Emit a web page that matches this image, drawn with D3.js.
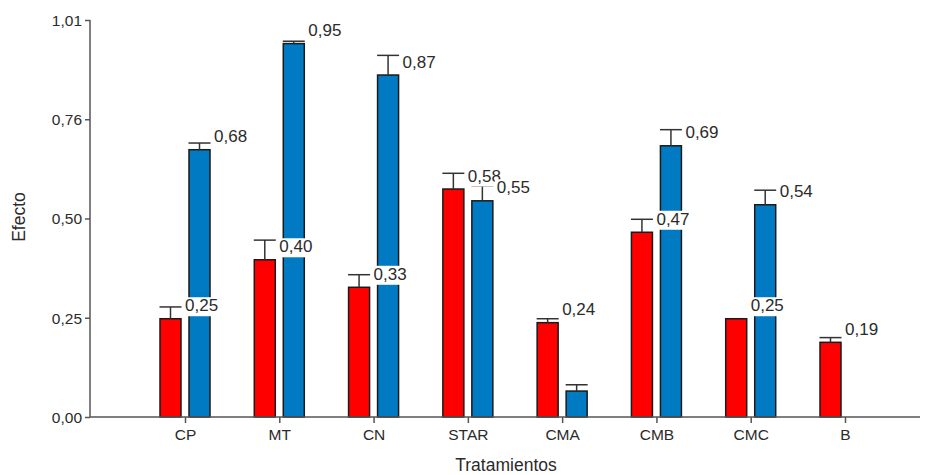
<!DOCTYPE html>
<html>
<head>
<meta charset="utf-8">
<script src="https://cdn.jsdelivr.net/npm/d3@7"></script>
<style>
  html, body { margin: 0; padding: 0; background: #fff; }
  svg { display: block; font-family: "Liberation Sans", Arial, sans-serif; }
</style>
</head>
<body>
<svg id="chart" width="925" height="475"></svg>
<script>
// Treatments and effect values (two series per treatment)
const categories = ["CP", "MT", "CN", "STAR", "CMA", "CMB", "CMC", "B"];
const redValues  = [0.25, 0.40, 0.33, 0.58, 0.24, 0.47, 0.25, 0.19];
const redErrors  = [0.030, 0.050, 0.032, 0.040, 0.010, 0.033, 0, 0.012];
const blueValues = [0.68, 0.95, 0.87, 0.55, 0.066, 0.69, 0.54, null];
const blueErrors = [0.017, 0.006, 0.050, 0.038, 0.016, 0.041, 0.037, 0];
const blueLabelled = [true, true, true, true, false, true, true, false];
const yTickValues = [0, 0.2525, 0.505, 0.7575, 1.01];
const yTickLabels = ["0,00", "0,25", "0,50", "0,76", "1,01"];

const svg = d3.select("#chart");
const axisX0 = 90, axisX1 = 920;

const x = d3.scalePoint().domain(categories).range([185, 845]);
const y = d3.scaleLinear().domain([0, 1.01]).range([417, 20]);

const barW = 21, barGap = 4;
const fmt = v => d3.format(".2f")(v).replace(".", ",");
const textColor = "#2b2b2b";

const series = [
  { key: "red", color: "#ff0000", values: redValues, errors: redErrors,
    offset: -barGap - barW, labelled: categories.map(() => true) },
  { key: "blue", color: "#007ac2", values: blueValues, errors: blueErrors,
    offset: barGap, labelled: blueLabelled }
];

const rows = s => categories.map((c, i) => ({
  cat: c, v: s.values[i], e: s.errors[i], lab: s.labelled[i]
})).filter(d => d.v != null);

// Bars
series.forEach(s => {
  svg.append("g").selectAll("rect").data(rows(s)).join("rect")
    .attr("x", d => x(d.cat) + s.offset)
    .attr("y", d => y(d.v))
    .attr("width", barW)
    .attr("height", d => y(0) - y(d.v))
    .attr("fill", s.color)
    .attr("stroke", "#1a1a1a")
    .attr("stroke-width", 1.5);
});

// Error bars (upper whisker with cap)
series.forEach(s => {
  const g = svg.append("g").attr("stroke", "#333").attr("stroke-width", 1.5);
  rows(s).filter(d => d.e > 0).forEach(d => {
    const cx = x(d.cat) + s.offset + barW / 2;
    g.append("line").attr("x1", cx).attr("x2", cx)
      .attr("y1", y(d.v)).attr("y2", y(d.v + d.e));
    g.append("line").attr("x1", cx - barW / 2 - 0.5).attr("x2", cx + barW / 2 + 0.5)
      .attr("y1", y(d.v + d.e)).attr("y2", y(d.v + d.e));
  });
});

// Axes
const gx = svg.append("g").attr("transform", `translate(0,${y(0)})`)
  .call(d3.axisBottom(x).tickSize(6).tickPadding(6));
gx.select(".domain").attr("d", `M${axisX0},0H${axisX1}`);
const gy = svg.append("g").attr("transform", `translate(${axisX0},0)`)
  .call(d3.axisLeft(y).tickValues(yTickValues)
    .tickFormat((d, i) => yTickLabels[i]).tickSize(5).tickPadding(3));
gy.select(".domain").attr("d", `M0,${y(1.01)}V${y(0)}`);

[gx, gy].forEach(g => {
  g.select(".domain").attr("stroke", "#555").attr("stroke-width", 1.5);
  g.selectAll(".tick line").attr("stroke", "#555").attr("stroke-width", 1.5);
  g.selectAll(".tick text").attr("fill", textColor)
    .style("font-size", "15.5px").style("font-family", "Liberation Sans, Arial, sans-serif");
});
gy.selectAll(".tick text").attr("dy", "0.35em");

// Value labels on a white box, placed just right of each bar top
series.forEach(s => {
  const g = svg.append("g");
  rows(s).filter(d => d.lab).forEach(d => {
    const lg = g.append("g");
    const t = lg.append("text")
      .attr("x", x(d.cat) + s.offset + barW + 4)
      .attr("y", y(d.v) - 7.5)
      .attr("fill", textColor)
      .style("font-size", "17px")
      .text(fmt(d.v));
    const bb = t.node().getBBox();
    lg.insert("rect", "text")
      .attr("x", bb.x - 2).attr("y", bb.y + 1)
      .attr("width", bb.width + 4).attr("height", bb.height)
      .attr("fill", "#fff");
  });
});

// Axis titles
svg.append("text")
  .attr("x", 506).attr("y", 471)
  .attr("text-anchor", "middle")
  .attr("fill", textColor)
  .style("font-size", "17.5px")
  .text("Tratamientos");
svg.append("text")
  .attr("transform", "translate(25,217) rotate(-90)")
  .attr("text-anchor", "middle")
  .attr("fill", textColor)
  .style("font-size", "17.5px")
  .text("Efecto");
</script>
</body>
</html>
